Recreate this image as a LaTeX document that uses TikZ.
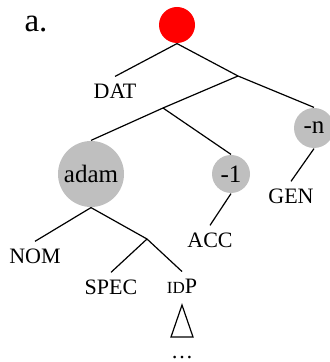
\documentclass[tikz,border=0pt]{standalone}
\usepackage{fontspec}
\setmainfont{Liberation Serif}
\tikzset{
  lbl/.style={font=\fontsize{11}{13}\selectfont},
  morph/.style={circle,fill=gray!50,inner sep=0pt,font=\fontsize{12.5}{14}\selectfont},
}
\begin{document}
\begin{tikzpicture}[x=0.5pt,y=-0.5pt,line width=0.6pt]
\useasboundingbox (0,0) rectangle (330,362);
\node[font=\fontsize{16.5}{18}\selectfont] (a) at (36,24) {a.};
\node[circle,fill=red,minimum size=18pt,inner sep=0pt] (root) at (177,25) {};
\node[lbl] (dat) at (115,91) {DAT};
\node[morph,minimum size=20pt] (n) at (314,128) {-n};
\node[lbl] (gen) at (291,196) {GEN};
\node[morph,minimum size=33pt] (adam) at (91,174) {adam};
\node[morph,minimum size=19pt] (acc1) at (231,174) {-1};
\node[lbl] (acc) at (210,240) {ACC};
\node[lbl] (nom) at (35,256) {NOM};
\node[lbl] (spec) at (111,287) {SPEC};
\node[font=\fontsize{11}{13}\selectfont] (idp) at (182,286) {{\fontsize{8.5}{10}\selectfont ID}P};
\node[lbl] (dots) at (182,358) {\dots};
\coordinate (b1) at (238,76);
\coordinate (b2) at (163,108);
\coordinate (b3) at (147,239);
\coordinate (tri) at (182,305);
% branches
\draw (root.south) -- (dat.north);
\draw (root.south) -- (b1) -- (n.north);
\draw (b1) -- (b2) -- (adam.north);
\draw (b2) -- (acc1.north);
\draw (n.south) -- (gen.north);
\draw (acc1.south) -- (acc.north);
\draw (adam.south) -- (nom.north);
\draw (adam.south) -- (b3);
\draw (b3) -- (spec.north);
\draw (b3) -- (idp.north);
\draw (tri) -- ++(-11,32) -- ++(22,0) -- cycle;
\end{tikzpicture}
\end{document}
